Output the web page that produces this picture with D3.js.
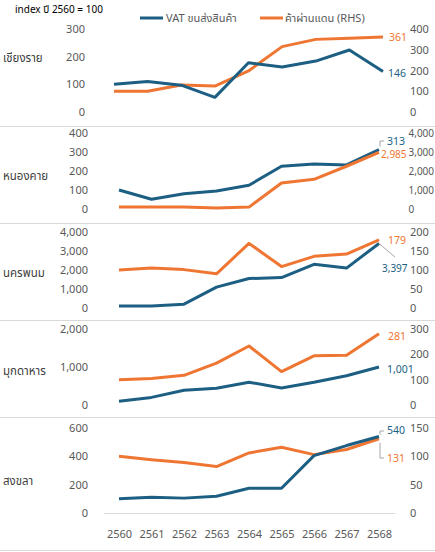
<!DOCTYPE html>
<html><head><meta charset="utf-8">
<script src="https://cdn.jsdelivr.net/npm/d3@7/dist/d3.min.js"></script>
<style>body{margin:0;background:#fff}svg{display:block}text{font-family:"Noto Sans","Noto Sans Thai","DejaVu Sans",sans-serif}</style>
</head><body><svg id="c" width="435" height="552"></svg>
<script>
const years = [2560,2561,2562,2563,2564,2565,2566,2567,2568];
const provinces = ["เชียงราย","หนองคาย","นครพนม","มุกดาหาร","สงขลา"];
const vatChiangRai = [100,110,97,53,178,163,184,224,146];
const transitChiangRai = [100,100,130,125,198,315,350,355,361];
const vatNongKhai = [100,51,80,95,125,225,237,232,313];
const transitNongKhai = [100,100,100,50,100,1368,1560,2250,2985];
const vatNakhonPhanom = [100,100,200,1100,1550,1600,2300,2100,3397];
const transitNakhonPhanom = [100,105,101,90,170,109,136,142,179];
const vatMukdahan = [100,200,390,440,600,450,600,770,1001];
const transitMukdahan = [100,105,117,165,233,132,194,196,281];
const vatSongkhla = [100,112,105,118,175,175,405,476,540];
const transitSongkhla = [100,94,89,82,106,116,103,112,131];
const leftTicks = [[0,100,200,300],[0,100,200,300,400],[0,1000,2000,3000,4000],[0,1000,2000],[0,200,400,600]];
const rightTicks = [[0,100,200,300,400],[0,1000,2000,3000,4000],[0,50,100,150,200],[0,100,200,300],[0,50,100,150]];
const vatSeries = [vatChiangRai,vatNongKhai,vatNakhonPhanom,vatMukdahan,vatSongkhla];
const transitSeries = [transitChiangRai,transitNongKhai,transitNakhonPhanom,transitMukdahan,transitSongkhla];
const titleText = "index ปี 2560 = 100";
const legendNames = ["VAT ขนส่งสินค้า","ค้าผ่านแดน (RHS)"];

const BLUE = "#1c5f83", ORANGE = "#ef7632", GRID = "#d9d9d9", TICK = "#595959";
const svg = d3.select("#c");
const fmt = d3.format(",");

const panels = [
  {top:29, bottom:112, x0:114, x1:383, labelY:58},
  {top:133, bottom:209, x0:119, x1:379, labelY:176},
  {top:232, bottom:308, x0:119, x1:379, labelY:273},
  {top:329, bottom:405, x0:119, x1:379, labelY:371},
  {top:428, bottom:513, x0:119, x1:379, labelY:481}
];
const separators = [126, 223, 320, 417, 550];

svg.append("text").attr("x",15).attr("y",13).attr("font-size",10).attr("fill","#000").text(titleText);
svg.append("line").attr("x1",140).attr("x2",163).attr("y1",18).attr("y2",18).attr("stroke",BLUE).attr("stroke-width",3);
svg.append("text").attr("x",166).attr("y",22).attr("font-size",11).attr("fill",TICK).text(legendNames[0]);
svg.append("line").attr("x1",260).attr("x2",283).attr("y1",18).attr("y2",18).attr("stroke",ORANGE).attr("stroke-width",3);
svg.append("text").attr("x",285).attr("y",22).attr("font-size",11).attr("fill",TICK).text(legendNames[1]);

separators.forEach(y=>svg.append("line").attr("x1",0).attr("x2",435).attr("y1",y+0.5).attr("y2",y+0.5).attr("stroke",GRID).attr("stroke-width",1));

panels.forEach((p,i)=>{
  const x = d3.scalePoint().domain(years).range([p.x0,p.x1]);
  const lt = leftTicks[i], rt = rightTicks[i];
  const yl = d3.scaleLinear().domain([0,lt[lt.length-1]]).range([p.bottom,p.top]);
  const yr = d3.scaleLinear().domain([0,rt[rt.length-1]]).range([p.bottom,p.top]);
  const g = svg.append("g");
  g.append("text").attr("x",3).attr("y",p.labelY).attr("dy","0.35em").attr("font-size",11.5).attr("fill","#404040").text(provinces[i]);
  const la = d3.axisLeft(yl).tickValues(lt).tickFormat(fmt).tickSize(0).tickPadding(0);
  const lg = g.append("g").attr("transform",`translate(${i===0?85:88},0)`).call(la);
  const ra = d3.axisRight(yr).tickValues(rt).tickFormat(fmt).tickSize(0).tickPadding(0);
  const rg = g.append("g").attr("transform",`translate(${i===1?408.5:410},0)`).call(ra);
  [lg,rg].forEach(a=>{a.select(".domain").remove();a.selectAll("text").attr("font-size",11).attr("fill",TICK).style("font-family",'"Noto Sans",sans-serif');});
  if(i===1) rg.selectAll("text").attr("font-size",10);
  if(i===4){
    g.append("line").attr("x1",104).attr("x2",395).attr("y1",p.bottom+0.5).attr("y2",p.bottom+0.5).attr("stroke",GRID);
    const xa = d3.axisBottom(x).tickSize(0).tickPadding(0);
    const xg = g.append("g").attr("transform",`translate(0,530)`).call(xa);
    xg.select(".domain").remove();
    xg.selectAll("text").attr("font-size",11).attr("fill",TICK).style("font-family",'"Noto Sans",sans-serif');
  }
  const lineL = d3.line().x((d,j)=>x(years[j])).y(d=>yl(d));
  const lineR = d3.line().x((d,j)=>x(years[j])).y(d=>yr(d));
  const drawOrder = [["t",transitSeries[i],lineR,ORANGE],["v",vatSeries[i],lineL,BLUE]];
  if(i===1) drawOrder.reverse();
  drawOrder.forEach(([k,s,ln,c])=>g.append("path").attr("d",ln(s)).attr("fill","none").attr("stroke",c).attr("stroke-width",3).attr("stroke-linejoin","round"));
  const vLast = vatSeries[i][8], tLast = transitSeries[i][8];
  const lab = (txt,xx,yy,c,fs)=>g.append("text").attr("x",xx).attr("y",yy).attr("dy","0.35em").attr("font-size",fs||10.5).attr("fill",c).text(fmt(txt));
  const lx = x(2568);
  if(i===0){ lab(tLast,lx+6,yr(tLast),ORANGE); lab(vLast,lx+5,yl(vLast)+2,BLUE); }
  if(i===1){
    g.append("path").attr("d",`M${lx+1},${yl(vLast)-3}V141H${lx+5}`).attr("fill","none").attr("stroke","#a6a6a6");
    lab(vLast,lx+8,141,BLUE); lab(tLast,lx+2,154,ORANGE,10);
  }
  if(i===2){
    g.append("line").attr("x1",lx).attr("y1",yl(vLast)).attr("x2",lx+16).attr("y2",257).attr("stroke","#a6a6a6");
    lab(tLast,lx+9,240,ORANGE); lab(vLast,lx+3,268,BLUE,10);
  }
  if(i===3){ lab(tLast,lx+9,336,ORANGE); lab(vLast,lx+8,369,BLUE); }
  if(i===4){
    g.append("path").attr("d",`M${lx+1},${yl(vLast)-2}V431H${lx+5}`).attr("fill","none").attr("stroke","#a6a6a6");
    g.append("path").attr("d",`M${lx+1},${yr(tLast)+4}V458H${lx+5}`).attr("fill","none").attr("stroke","#a6a6a6");
    lab(vLast,lx+8,430,BLUE); lab(tLast,lx+8,458,ORANGE);
  }
});
</script></body></html>
